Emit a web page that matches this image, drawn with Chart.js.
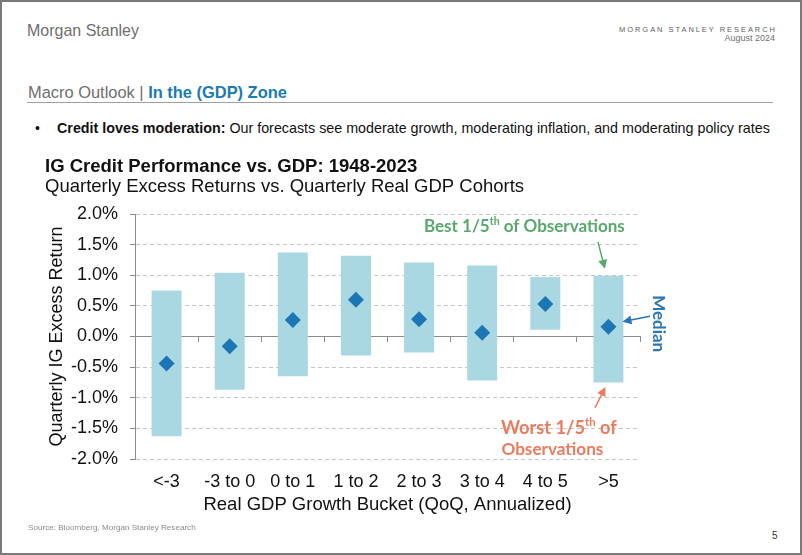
<!DOCTYPE html>
<html>
<head>
<meta charset="utf-8">
<script src="https://cdn.jsdelivr.net/npm/chart.js@4.4.1/dist/chart.umd.min.js"></script>
<style>
  html, body { margin: 0; padding: 0; background: #fff; }
  #page { position: relative; width: 802px; height: 555px; overflow: hidden; font-family: "Liberation Sans", Arial, sans-serif; background: #fff; }
  #frame { position: absolute; left: 0; top: 0; width: 802px; height: 555px; box-sizing: border-box; border: 2px solid #7a7a7a; pointer-events: none; z-index: 10; }
  .t { position: absolute; white-space: nowrap; }
  #chartBox { position: absolute; left: 0; top: 150px; width: 802px; height: 380px; }
</style>
</head>
<body>
<div id="page">
  <div class="t" id="logo" style="left:27px;top:21px;font-size:17px;line-height:20px;color:#6e6e6e;font-family:'Liberation Sans Narrow','Liberation Sans',sans-serif;transform-origin:left center;">Morgan Stanley</div>
  <div class="t" id="msr" style="right:27px;top:25px;font-size:7.5px;line-height:9px;color:#5e5e5e;letter-spacing:2px;">MORGAN STANLEY RESEARCH</div>
  <div class="t" id="date" style="right:27px;top:33px;font-size:9px;line-height:10px;color:#6e6e6e;">August 2024</div>
  <div class="t" id="section" style="left:28px;top:83px;font-size:16px;line-height:18px;color:#6e6e6e;">Macro Outlook | <b style="color:#1a7bb5;">In the (GDP) Zone</b></div>
  <div style="position:absolute;left:27px;top:102px;width:746px;height:1px;background:#a0a0a0;"></div>
  <div class="t" style="left:35px;top:120px;font-size:14px;line-height:16px;color:#111;">•</div>
  <div class="t" id="bullet" style="left:57px;top:120px;font-size:14.5px;line-height:16px;color:#111;"><b>Credit loves moderation:</b> Our forecasts see moderate growth, moderating inflation, and moderating policy rates</div>
  <div id="chartBox"><canvas id="chart"></canvas></div>
  <div class="t" id="source" style="left:28px;top:523px;font-size:8px;line-height:10px;color:#8c8c8c;">Source: Bloomberg, Morgan Stanley Research</div>
  <div class="t" style="left:772px;top:530px;font-size:10px;line-height:12px;color:#333;">5</div>
  <div id="frame"></div>
</div>
<script>
// ---- data ----
const categories = ['<-3', '-3 to 0', '0 to 1', '1 to 2', '2 to 3', '3 to 4', '4 to 5', '>5'];
const worstFifth = [-1.63, -0.87, -0.65, -0.31, -0.26, -0.72, 0.11, -0.75];
const bestFifth  = [0.75, 1.04, 1.37, 1.32, 1.21, 1.16, 0.97, 0.99];
const medianReturn = [-0.44, -0.16, 0.27, 0.60, 0.28, 0.06, 0.53, 0.16];
const yTickValues = [-2.0, -1.5, -1.0, -0.5, 0.0, 0.5, 1.0, 1.5, 2.0];

const chartTitle = 'IG Credit Performance vs. GDP: 1948-2023';
const chartSubtitle = 'Quarterly Excess Returns vs. Quarterly Real GDP Cohorts';
const xTitle = 'Real GDP Growth Bucket (QoQ, Annualized)';
const yTitle = 'Quarterly IG Excess Return';

// ---- page text fitting ----
function scaleToWidth(id, w) {
  const el = document.getElementById(id);
  const cw = el.getBoundingClientRect().width;
  el.style.transform = 'scaleX(' + (w / cw) + ')';
}
function sizeToWidth(id, w) {
  const el = document.getElementById(id);
  const cw = el.getBoundingClientRect().width;
  const fs = parseFloat(getComputedStyle(el).fontSize);
  el.style.fontSize = (fs * w / cw) + 'px';
}
scaleToWidth('logo', 112);
(function () {
  const el = document.getElementById('msr');
  el.style.letterSpacing = '0px';
  const w0 = el.getBoundingClientRect().width;
  const n = el.textContent.length;
  el.style.letterSpacing = ((156 - w0) / (n - 1)) + 'px';
  el.style.right = (27 - (156 - w0) / (n - 1)) + 'px';
})();
sizeToWidth('section', 259);
sizeToWidth('bullet', 713);
sizeToWidth('source', 168);

// ---- chart ----
const FONT = "'Liberation Sans', Arial, sans-serif";
Chart.defaults.font.family = FONT;
Chart.defaults.color = '#111';

function drawArrow(ctx, x1, y1, x2, y2, color) {
  const ang = Math.atan2(y2 - y1, x2 - x1);
  const hl = 9, hw = 4.5;
  ctx.save();
  ctx.strokeStyle = color; ctx.fillStyle = color; ctx.lineWidth = 1.5;
  ctx.beginPath();
  ctx.moveTo(x1, y1);
  ctx.lineTo(x2 - Math.cos(ang) * hl * 0.8, y2 - Math.sin(ang) * hl * 0.8);
  ctx.stroke();
  ctx.beginPath();
  ctx.moveTo(x2, y2);
  ctx.lineTo(x2 - Math.cos(ang) * hl - Math.sin(ang) * hw, y2 - Math.sin(ang) * hl + Math.cos(ang) * hw);
  ctx.lineTo(x2 - Math.cos(ang) * hl + Math.sin(ang) * hw, y2 - Math.sin(ang) * hl - Math.cos(ang) * hw);
  ctx.closePath();
  ctx.fill();
  ctx.restore();
}

// rich text: parts [{t, sup}], fitted to width w, drawn from left x, middle y
function drawRich(ctx, parts, x, y, w, color) {
  const fam = "Lato, 'Open Sans', sans-serif";
  const measure = (s) => {
    let tot = 0;
    parts.forEach(p => {
      ctx.font = 'bold ' + (p.sup ? s * 0.62 : s) + 'px ' + fam;
      tot += ctx.measureText(p.t).width;
    });
    return tot;
  };
  const base = 18;
  const s = base * w / measure(base);
  ctx.save();
  ctx.fillStyle = color;
  ctx.textBaseline = 'middle';
  ctx.textAlign = 'left';
  let cx = x;
  parts.forEach(p => {
    const fs = p.sup ? s * 0.62 : s;
    ctx.font = 'bold ' + fs + 'px ' + fam;
    ctx.fillText(p.t, cx, p.sup ? y - s * 0.3 : y);
    cx += ctx.measureText(p.t).width;
  });
  ctx.restore();
}

const annotationPlugin = {
  id: 'annotations',
  afterDatasetsDraw(chart) {
    const { ctx, scales: { x, y } } = chart;
    const last = categories.length - 1;
    const cx = x.getPixelForValue(last);
    const topPx = y.getPixelForValue(bestFifth[last]);
    const botPx = y.getPixelForValue(worstFifth[last]);
    const medPx = y.getPixelForValue(medianReturn[last]);
    const green = '#58a86c', orange = '#eb7b5f', blue = '#2b76b4';

    // Best 1/5th
    drawRich(ctx, [{ t: 'Best 1/5' }, { t: 'th', sup: true }, { t: ' of Observations' }], cx - 184.5, topPx - 49, 201, green);
    drawArrow(ctx, cx - 10.5, topPx - 34, cx - 3.5, topPx - 7, green);

    // Median
    ctx.save();
    ctx.translate(cx + 50, medPx - 3);
    ctx.rotate(Math.PI / 2);
    ctx.textAlign = 'center';
    ctx.textBaseline = 'middle';
    ctx.fillStyle = blue;
    ctx.font = "bold 18px Lato, 'Open Sans', sans-serif";
    const mw = ctx.measureText('Median').width;
    ctx.font = 'bold ' + (18 * 57 / mw) + "px Lato, 'Open Sans', sans-serif";
    ctx.fillText('Median', 0, 0);
    ctx.restore();
    drawArrow(ctx, cx + 41.5, medPx - 10.5, cx + 14, medPx - 5, blue);

    // Worst 1/5th
    drawRich(ctx, [{ t: 'Worst 1/5' }, { t: 'th', sup: true }, { t: ' of' }], cx - 107.5, botPx + 45.6, 116, orange);
    drawRich(ctx, [{ t: 'Observations' }], cx - 107, botPx + 67.5, 102, orange);
    drawArrow(ctx, cx - 13.5, botPx + 25.5, cx - 3, botPx + 4.5, orange);
  }
};

new Chart(document.getElementById('chart'), {
  type: 'bar',
  data: {
    labels: categories,
    datasets: [
      {
        type: 'line',
        label: 'Median',
        data: medianReturn,
        showLine: false,
        pointStyle: 'rectRot',
        pointRadius: 8,
        pointHoverRadius: 8,
        pointBorderWidth: 0,
        backgroundColor: '#1c76b4',
        borderColor: '#1c76b4',
        order: 0
      },
      {
        type: 'bar',
        label: 'Best / Worst 1/5th of Observations',
        data: categories.map((c, i) => [worstFifth[i], bestFifth[i]]),
        backgroundColor: '#a9d8e3',
        borderWidth: 0,
        barPercentage: 0.475,
        categoryPercentage: 1,
        order: 1
      }
    ]
  },
  options: {
    responsive: true,
    maintainAspectRatio: false,
    animation: false,
    events: [],
    layout: { padding: { left: 45, right: 162, top: 0, bottom: 14 } },
    plugins: {
      legend: { display: false },
      tooltip: { enabled: false },
      title: {
        display: true, text: chartTitle, align: 'start', color: '#111',
        font: { size: 18.5, weight: 'bold', lineHeight: 1.1 },
        padding: { top: 6.8, bottom: 0 }
      },
      subtitle: {
        display: true, text: chartSubtitle, align: 'start', color: '#111',
        font: { size: 18.5, weight: 'normal', lineHeight: 1.1 },
        padding: { top: 0, bottom: 16.5 }
      }
    },
    scales: {
      x: {
        type: 'category',
        position: 'bottom',
        grid: { display: false, drawTicks: false },
        border: { display: false },
        ticks: { color: '#111', font: { size: 18 }, padding: 12, maxRotation: 0, autoSkip: false },
        title: { display: true, text: xTitle, color: '#111', font: { size: 18.5, lineHeight: 1.2 }, padding: 0 },
        afterFit(s) { s.height = 57; }
      },
      x0: {
        type: 'category',
        axis: 'x',
        position: { y: 0 },
        offset: true,
        grid: { offset: true, drawOnChartArea: false, tickLength: 5, color: '#8c8c8c', lineWidth: 1 },
        border: { display: true, color: '#8c8c8c', width: 1 },
        ticks: { display: false }
      },
      y: {
        min: -2, max: 2,
        afterBuildTicks(s) { s.ticks = yTickValues.map(v => ({ value: v })); },
        ticks: { color: '#111', font: { size: 18 }, padding: 12, callback: v => Number(v).toFixed(1) + '%' },
        grid: {
          color: c => (c.tick && c.tick.value === 0) ? 'rgba(0,0,0,0)' : '#c6c6c6',
          tickLength: 5, tickColor: '#8c8c8c', tickBorderDash: []
        },
        border: { display: true, color: '#8c8c8c', width: 1, dash: [4, 3] },
        title: { display: true, text: yTitle, color: '#111', font: { size: 18, lineHeight: 1.2 }, padding: { top: 1, bottom: 0 } },
        afterFit(s) { s.width = 90; }
      }
    }
  },
  plugins: [annotationPlugin]
});
</script>
</body>
</html>
